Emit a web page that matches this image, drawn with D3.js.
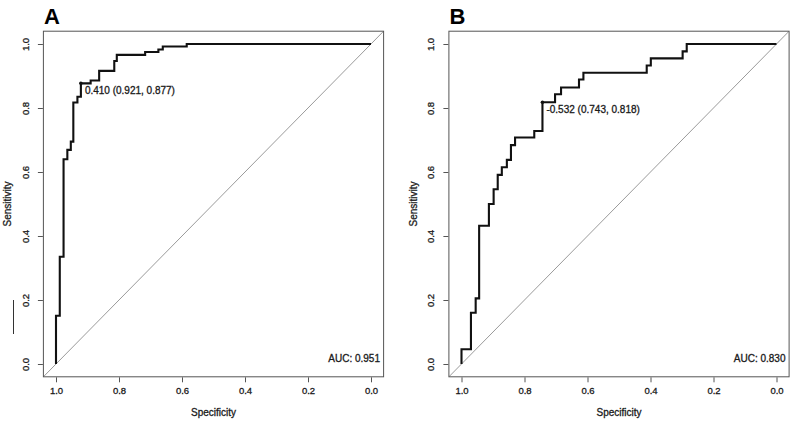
<!DOCTYPE html>
<html>
<head>
<meta charset="utf-8">
<script src="https://cdn.jsdelivr.net/npm/d3@7"></script>
<style>
  body { margin: 0; background: #fff; }
  svg { display: block; font-family: "Liberation Sans", Arial, Helvetica, sans-serif; }
  svg text.lbl { stroke: #1a1a1a; stroke-width: 0.3px; }
</style>
</head>
<body>
<div id="chart"></div>
<script>
// ROC data (specificity, sensitivity vertices)
var specA = [1, 1, 0.988, 0.988, 0.976, 0.976, 0.964, 0.964, 0.953, 0.953, 0.945, 0.945, 0.932, 0.932, 0.921, 0.921,
             0.890, 0.890, 0.863, 0.863, 0.815, 0.815, 0.807, 0.807, 0.717, 0.717, 0.675, 0.675, 0.661, 0.661, 0.585, 0.585, 0];
var sensA = [0, 0.151, 0.151, 0.335, 0.335, 0.64, 0.64, 0.669, 0.669, 0.695, 0.695, 0.817, 0.817, 0.835, 0.835, 0.877,
             0.877, 0.886, 0.886, 0.916, 0.916, 0.947, 0.947, 0.966, 0.966, 0.975, 0.975, 0.983, 0.983, 0.992, 0.992, 1, 1];

var specB = [1, 1, 0.970, 0.970, 0.955, 0.955, 0.944, 0.944, 0.913, 0.913, 0.898, 0.898, 0.885, 0.885, 0.872, 0.872,
             0.856, 0.856, 0.843, 0.843, 0.830, 0.830, 0.769, 0.769, 0.743, 0.743, 0.703, 0.703, 0.684, 0.684, 0.627, 0.627,
             0.613, 0.613, 0.412, 0.412, 0.399, 0.399, 0.298, 0.298, 0.285, 0.285, 0];
var sensB = [0, 0.046, 0.046, 0.160, 0.160, 0.205, 0.205, 0.432, 0.432, 0.5, 0.5, 0.546, 0.546, 0.591, 0.591, 0.615,
             0.615, 0.638, 0.638, 0.684, 0.684, 0.708, 0.708, 0.728, 0.728, 0.818, 0.818, 0.843, 0.843, 0.864, 0.864, 0.889,
             0.889, 0.910, 0.910, 0.933, 0.933, 0.955, 0.955, 0.977, 0.977, 1, 1];

// best thresholds and AUC
var bestA = {thr: "0.410", spec: 0.921, sens: 0.877};
var bestB = {thr: "-0.532", spec: 0.743, sens: 0.818};
var aucA = "0.951", aucB = "0.830";

var ticks = [0, 0.2, 0.4, 0.6, 0.8, 1.0];
var panelLetters = ["A", "B"];

var W = 794, H = 422;
var svg = d3.select("#chart").append("svg").attr("width", W).attr("height", H);

var axisCol = "#555", textCol = "#1a1a1a";

function drawPanel(left, letter, spec, sens, best, auc) {
  // spec = 1 sits at left + 56, spec = 0 at left + 371
  var x = d3.scaleLinear().domain([1, 0]).range([left + 56, left + 371]);
  var y = d3.scaleLinear().domain([0, 1]).range([364, 44]);
  var g = svg.append("g");

  var bx0 = x(1.04), bx1 = x(-0.04), by0 = y(1.04), by1 = y(-0.04);

  var clipId = "clip" + letter;
  g.append("clipPath").attr("id", clipId)
    .append("rect").attr("x", bx0).attr("y", by0).attr("width", bx1 - bx0).attr("height", by1 - by0);

  // chance line across the whole plot region
  g.append("line")
    .attr("clip-path", "url(#" + clipId + ")")
    .attr("x1", x(1.04)).attr("y1", y(-0.04))
    .attr("x2", x(-0.04)).attr("y2", y(1.04))
    .attr("stroke", "#9a9a9a").attr("stroke-width", 1);

  // box
  g.append("rect")
    .attr("x", bx0).attr("y", by0).attr("width", bx1 - bx0).attr("height", by1 - by0)
    .attr("fill", "none").attr("stroke", axisCol).attr("stroke-width", 1);

  // axes
  var xAxis = d3.axisBottom(x).tickValues(ticks).tickSize(5).tickPadding(5).tickFormat(d3.format(".1f"));
  var yAxis = d3.axisLeft(y).tickValues(ticks).tickSize(5).tickPadding(5).tickFormat(d3.format(".1f"));

  var gx = g.append("g").attr("transform", "translate(0," + (by1 + 0.5) + ")").call(xAxis);
  gx.select(".domain").remove();
  gx.selectAll("line").attr("stroke", axisCol);
  gx.selectAll("text").attr("class", "lbl").attr("fill", textCol).style("font-size", "9.5px").attr("dy", "0.75em");

  var gy = g.append("g").attr("transform", "translate(" + (bx0 - 0.5) + ",0)").call(yAxis);
  gy.select(".domain").remove();
  gy.selectAll("line").attr("stroke", axisCol);
  gy.selectAll("text")
    .attr("class", "lbl")
    .attr("fill", textCol).style("font-size", "9.5px")
    .attr("text-anchor", "middle")
    .attr("x", 0).attr("dy", 0)
    .attr("transform", "translate(-14,0) rotate(-90)");

  // axis titles
  g.append("text").text("Specificity").attr("class", "lbl")
    .attr("x", (x(1) + x(0)) / 2).attr("y", 416)
    .attr("text-anchor", "middle").attr("fill", textCol).style("font-size", "10px");
  g.append("text").text("Sensitivity").attr("class", "lbl")
    .attr("transform", "translate(" + (left + 11) + "," + ((by0 + by1) / 2) + ") rotate(-90)")
    .attr("text-anchor", "middle").attr("fill", textCol).style("font-size", "10px");

  // ROC curve
  var pts = spec.map(function(s, i) { return [s, sens[i]]; });
  var line = d3.line().x(function(d) { return x(d[0]); }).y(function(d) { return y(d[1]); });
  g.append("path").datum(pts)
    .attr("d", line).attr("fill", "none")
    .attr("stroke", "#111").attr("stroke-width", 2.1).attr("stroke-linejoin", "miter");

  // threshold point and label
  g.append("circle").attr("cx", x(best.spec)).attr("cy", y(best.sens)).attr("r", 1.8).attr("fill", "#111");
  g.append("text").attr("class", "lbl")
    .text(best.thr + " (" + best.spec.toFixed(3) + ", " + best.sens.toFixed(3) + ")")
    .attr("x", x(best.spec) + 4).attr("y", y(best.sens) + 10.5)
    .attr("fill", textCol).style("font-size", "10px");

  // AUC
  g.append("text").text("AUC: " + auc).attr("class", "lbl")
    .attr("x", left + 380).attr("y", 362)
    .attr("text-anchor", "end").attr("fill", textCol).style("font-size", "10px");

  // panel letter
  g.append("text").text(letter)
    .attr("x", left + 44).attr("y", 24)
    .attr("fill", "#000").style("font-size", "22px").style("font-weight", "bold");
}

drawPanel(0, panelLetters[0], specA, sensA, bestA, aucA);
drawPanel(405.5, panelLetters[1], specB, sensB, bestB, aucB);

// stray short stroke at the left edge of the source figure
svg.append("line").attr("x1", 13.5).attr("x2", 13.5).attr("y1", 300).attr("y2", 334)
  .attr("stroke", "#333").attr("stroke-width", 1);
</script>
</body>
</html>
